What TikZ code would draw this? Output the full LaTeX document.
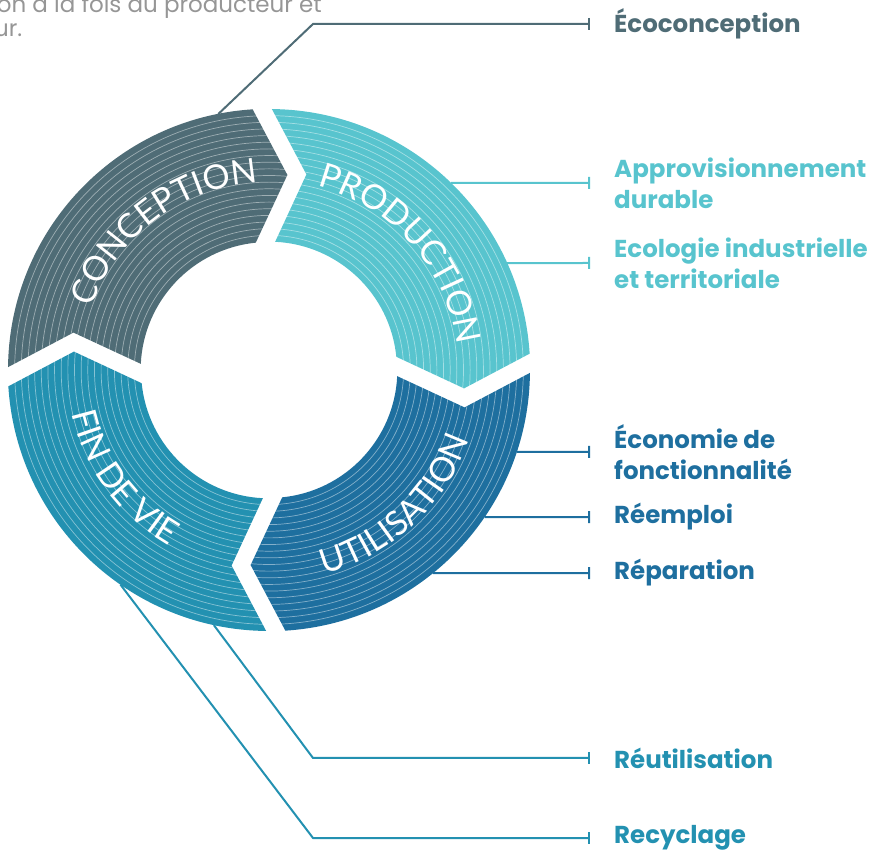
\documentclass[tikz,border=0pt]{standalone}
\usepackage{fontspec}
\setmainfont{Poppins}
\newfontfamily\ringfont{Lato}
\usetikzlibrary{arrows.meta,calc,decorations.text}

\definecolor{concol}{RGB}{79,108,118}
\definecolor{prodcol}{RGB}{88,196,206}
\definecolor{utilcol}{RGB}{30,111,159}
\definecolor{fincol}{RGB}{35,145,177}
\definecolor{introgray}{RGB}{150,150,150}

\begin{document}
\begin{tikzpicture}[
    x=1pt, y=1pt,
    stripe/.style={white, opacity=0.45, line width=0.7pt},
    ringtext/.style={
        decorate,
        decoration={text along path,
            text={|\ringfont\fontsize{34}{34}\selectfont|#1},
            text align=center, text color=white},
    },
    lbl/.style={
        anchor=west,
        inner sep=0pt,
        align=left,
        font=\bfseries\fontsize{24.5}{31}\selectfont,
    },
    conn/.style={line width=2pt, -{Bar[width=12pt]}, shorten >=24pt},
    intro/.style={inner sep=0pt, text=introgray, font=\fontsize{23}{24}\selectfont},
]

    \useasboundingbox (0,0) rectangle (887,855);
    \clip (0,0) rectangle (887,855);

    \coordinate (C) at (269,485);

    % the four parts of the ring
    \foreach \rot/\col in {0/concol,-90/prodcol,-180/utilcol,-270/fincol}
        \fill[\col, shift={(C)}, rotate=\rot+1.5]
            (-9.5,261) arc[start angle=92.09, end angle=177.91, radius=261pt]
            -- (-194.5,42.5) -- (-128,9.5)
            arc[start angle=175.74, end angle=94.26, radius=128pt]
            -- (23.5,194.5) -- cycle;

    \foreach \k in {1,...,19}
        \draw[stripe] (C) circle[radius=128pt+6.65pt*\k];

    \path[ringtext={CONCEPTION}] ($(C)+(177:188)$) arc[start angle=177, end angle=77, radius=188pt];
    \path[ringtext={PRODUCTION}] ($(C)+(91.4:190)$) arc[start angle=91.4, end angle=-8.6, radius=190pt];
    \path[ringtext={UTILISATION}] ($(C)+(-97:212)$) arc[start angle=-97, end angle=3, radius=212pt];
    \path[ringtext={FIN DE VIE}] ($(C)+(-193.6:202)$) arc[start angle=-193.6, end angle=-93.6, radius=202pt];

    \node[intro, anchor=base east] (intro1) at (322,842) {on à la fois du producteur et};
    \node[intro, anchor=base west] (intro2) at (-6,818) {ur.};

    \node[lbl, text=concol]  (eco)   at (614,831) {Écoconception};
    \node[lbl, text=prodcol] (appro) at (614,672) {Approvisionnement\\durable};
    \node[lbl, text=prodcol] (ecol)  at (614,592) {Ecologie industrielle\\et territoriale};
    \node[lbl, text=utilcol] (econ)  at (614,403) {Économie de\\fonctionnalité};
    \node[lbl, text=utilcol] (reem)  at (614,338) {Réemploi};
    \node[lbl, text=utilcol] (repa)  at (614,282) {Réparation};
    \node[lbl, text=fincol]  (reut)  at (614,97)  {Réutilisation};
    \node[lbl, text=fincol]  (recy)  at (614,17)  {Recyclage};

    \coordinate (a1) at ($(C)+(101.2:261)$);
    \coordinate (a2) at ($(C)+(45.8:261)$);
    \coordinate (a3) at ($(C)+(24.2:261)$);
    \coordinate (a4) at ($(C)+(-18.3:261)$);
    \coordinate (a5) at ($(C)+(-34.3:261)$);
    \coordinate (a6) at ($(C)+(-51.1:261)$);
    \coordinate (a7) at ($(C)+(-102.2:261)$);
    \coordinate (a8) at ($(C)+(-124.7:261)$);
    \coordinate (k1) at (313,831);
    \coordinate (k7) at (313,97);
    \coordinate (k8) at (313,17);

    \draw[conn, concol]  (a1) -- (k1) -- (eco.west);
    \draw[conn, prodcol] (a2) -- (appro.west);
    \draw[conn, prodcol] (a3) -- (ecol.west);
    \draw[conn, utilcol] (a4) -- (econ.west);
    \draw[conn, utilcol] (a5) -- (reem.west);
    \draw[conn, utilcol] (a6) -- (repa.west);
    \draw[conn, fincol]  (a7) -- (k7) -- (reut.west);
    \draw[conn, fincol]  (a8) -- (k8) -- (recy.west);

\end{tikzpicture}
\end{document}
